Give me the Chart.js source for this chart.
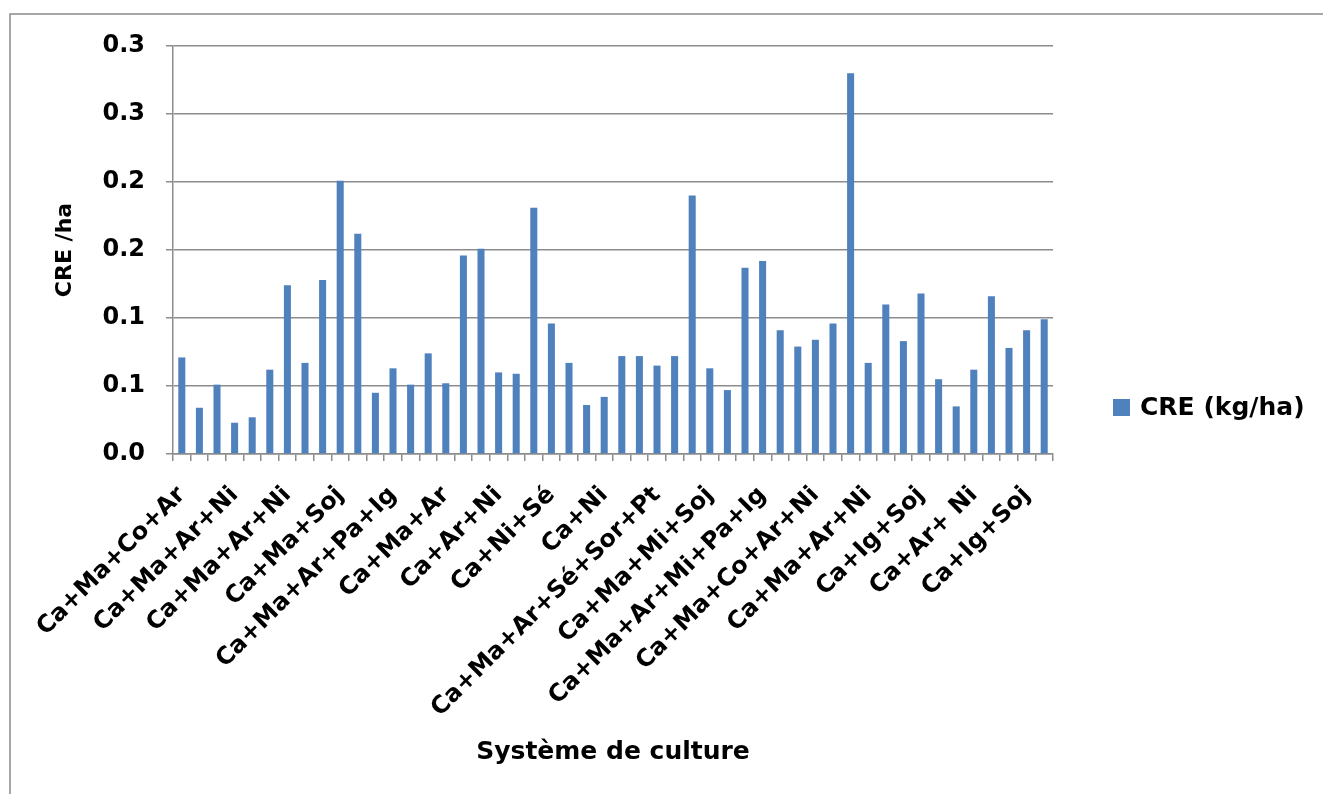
<!DOCTYPE html>
<html>
<head>
<meta charset="utf-8">
<title>CRE (kg/ha) par système de culture</title>
<script src="https://cdn.jsdelivr.net/npm/chart.js@4"></script>
<style>
    html, body { margin: 0; padding: 0; background: #fff; }
    #wrap { width: 1323px; height: 794px; }
</style>
</head>
<body>
<div id="wrap"><canvas id="creChart" width="1323" height="794"></canvas></div>
<script>
// one value per bar (kg/ha)
const creValues = [
    0.071, 0.034, 0.051, 0.023, 0.027, 0.062, 0.124, 0.067, 0.128, 0.201,
    0.162, 0.045, 0.063, 0.051, 0.074, 0.052, 0.146, 0.151, 0.060, 0.059,
    0.181, 0.096, 0.067, 0.036, 0.042, 0.072, 0.072, 0.065, 0.072, 0.190,
    0.063, 0.047, 0.137, 0.142, 0.091, 0.079, 0.084, 0.096, 0.280, 0.067,
    0.110, 0.083, 0.118, 0.055, 0.035, 0.062, 0.116, 0.078, 0.091, 0.099
];

// only every third category name is printed on the axis
const shownLabels = [
    'Ca+Ma+Co+Ar', 'Ca+Ma+Ar+Ni', 'Ca+Ma+Ar+Ni', 'Ca+Ma+Soj', 'Ca+Ma+Ar+Pa+Ig',
    'Ca+Ma+Ar', 'Ca+Ar+Ni', 'Ca+Ni+Sé', 'Ca+Ni', 'Ca+Ma+Ar+Sé+Sor+Pt',
    'Ca+Ma+Mi+Soj', 'Ca+Ma+Ar+Mi+Pa+Ig', 'Ca+Ma+Co+Ar+Ni', 'Ca+Ma+Ar+Ni',
    'Ca+Ig+Soj', 'Ca+Ar+ Ni', 'Ca+Ig+Soj'
];
const labelStep = 3;
const categories = creValues.map((v, i) => i % labelStep === 0 ? shownLabels[i / labelStep] : '');

// the y labels are rounded to one decimal, as in the original
const yTickLabels = ['0.0', '0.1', '0.1', '0.2', '0.2', '0.3', '0.3'];

const seriesName = 'CRE (kg/ha)';
const barColor = '#4F81BD';
const gridColor = '#8c8c8c';

Chart.defaults.font.family = '"DejaVu Sans", sans-serif';
Chart.defaults.font.weight = 'bold';
Chart.defaults.color = '#000';

// outer frame of the chart, cut at the right and bottom
const framePlugin = {
    id: 'frame',
    beforeDraw(chart) {
        const ctx = chart.ctx;
        ctx.save();
        ctx.fillStyle = '#fff';
        ctx.fillRect(0, 0, chart.width, chart.height);
        ctx.strokeStyle = '#8a8a8a';
        ctx.lineWidth = 1.5;
        ctx.strokeRect(10, 14, chart.width + 50, chart.height + 50);
        ctx.restore();
    }
};

// legend on the right, low next to the plot
const sideLegend = {
    id: 'sideLegend',
    afterDraw(chart) {
        const ctx = chart.ctx;
        const area = chart.chartArea;
        const x = area.right + 60;
        const y = area.bottom - 47;
        ctx.save();
        ctx.fillStyle = barColor;
        ctx.fillRect(x, y - 8, 17, 17);
        ctx.fillStyle = '#000';
        ctx.font = 'bold 25px "DejaVu Sans", sans-serif';
        ctx.textBaseline = 'middle';
        ctx.fillText(seriesName, x + 27, y + 1);
        ctx.restore();
    }
};

const ctx = document.getElementById('creChart').getContext('2d');
new Chart(ctx, {
    type: 'bar',
    data: {
        labels: categories,
        datasets: [{
            label: seriesName,
            data: creValues,
            backgroundColor: barColor,
            barPercentage: 0.4,
            categoryPercentage: 1.0
        }]
    },
    options: {
        responsive: false,
        animation: false,
        layout: {
            padding: { top: 46, right: 270, bottom: 0, left: 0 }
        },
        plugins: {
            legend: { display: false },
            tooltip: { enabled: false }
        },
        scales: {
            x: {
                grid: {
                    drawOnChartArea: false,
                    drawTicks: true,
                    tickLength: 7,
                    color: gridColor,
                    lineWidth: 1.5,
                    offset: true
                },
                border: { color: gridColor, width: 1.5 },
                ticks: {
                    autoSkip: false,
                    minRotation: 45,
                    maxRotation: 45,
                    padding: 20,
                    font: { size: 24, weight: 'bold' }
                },
                title: {
                    display: true,
                    text: 'Système de culture',
                    font: { size: 25, weight: 'bold' },
                    padding: { top: 0, bottom: 27 }
                },
                afterFit: (scale) => { scale.height = 340; }
            },
            y: {
                min: 0,
                max: 0.3,
                grid: {
                    color: gridColor,
                    lineWidth: 1.5,
                    tickLength: 7
                },
                border: { color: gridColor, width: 1.5 },
                ticks: {
                    stepSize: 0.05,
                    padding: 21,
                    font: { size: 24, weight: 'bold' },
                    callback: (value, index) => yTickLabels[index]
                },
                title: {
                    display: true,
                    text: 'CRE /ha',
                    font: { size: 22, weight: 'bold' },
                    padding: { top: 52, bottom: 0 }
                },
                afterFit: (scale) => { scale.width = 173; }
            }
        }
    },
    plugins: [framePlugin, sideLegend]
});
</script>
</body>
</html>
